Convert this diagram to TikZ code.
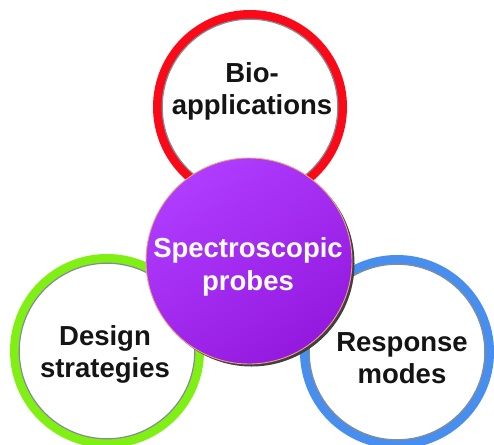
\documentclass[tikz,border=0pt]{standalone}
\usepackage{fontspec}
\setmainfont{Liberation Sans}
\begin{document}
\begin{tikzpicture}[x=1pt,y=-1pt,
  ring/.style={circle, draw=#1, line width=9pt, minimum size=185pt, inner sep=0pt},
  ringshade/.style={draw={rgb,255:red,130;green,140;blue,150}, line width=1.2pt},
  lbl/.style={align=center, font=\fontsize{27.5}{32}\selectfont\bfseries, text={rgb,255:red,20;green,20;blue,20}},
  wlbl/.style={align=center, font=\fontsize{27.5}{33}\selectfont\bfseries, text=white}]
\definecolor{ringred}{RGB}{250,10,25}
\definecolor{ringgreen}{RGB}{128,240,20}
\definecolor{ringblue}{RGB}{72,142,238}
\definecolor{purpA}{RGB}{175,60,255}
\definecolor{purpB}{RGB}{148,25,222}
\definecolor{peach}{RGB}{240,160,120}
\useasboundingbox (0,0) rectangle (494,444);
\fill[white] (0,0) rectangle (494,444);
% rings
\node[ring=ringred] (bio) at (250,107) {};
\draw[ringshade] (bio.center) circle[radius=87.8];
\node[ring=ringgreen] (design) at (107,351) {};
\draw[ringshade] (design.center) circle[radius=87.8];
\node[ring=ringblue] (resp) at (397,352) {};
\draw[ringshade] (resp.center) circle[radius=87.8];
% central circle
\fill[black!75] (251.5,263.5) circle[radius=103];
\shade[top color=purpA, bottom color=purpB, shading angle=35] (249,261) circle[radius=103];
\node[circle, draw=peach, line width=0.9pt, minimum size=206pt, inner sep=0pt] (probe) at (249,261) {};
% labels
\node[lbl] (biot) at (252,91) {Bio-\\applications};
\node[wlbl] (probet) at (248,266.5) {Spectroscopic\\probes};
\node[lbl] (designt) at (105,354) {Design\\strategies};
\node[lbl] (respt) at (402,358) {Response\\modes};
\end{tikzpicture}
\end{document}
